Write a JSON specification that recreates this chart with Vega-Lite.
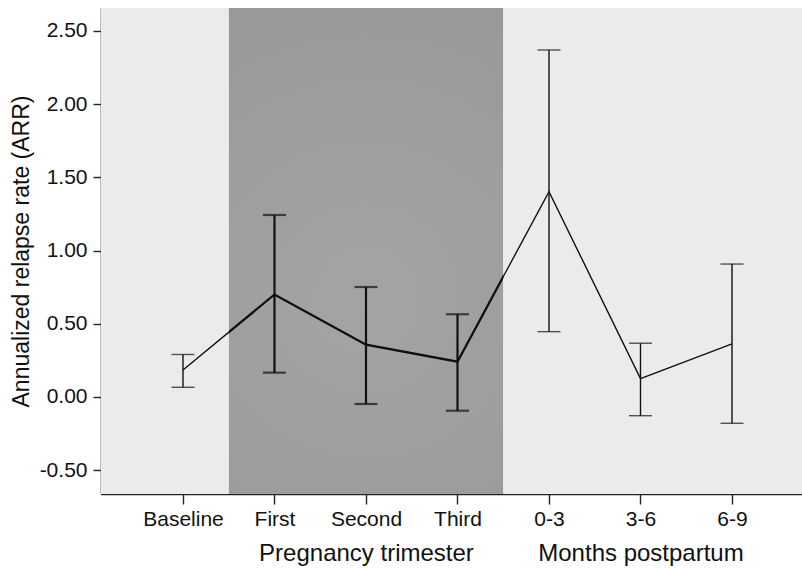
{
  "$schema": "https://vega.github.io/schema/vega-lite/v6.json",
  "width": 701,
  "height": 486,
  "autosize": {"type": "none"},
  "padding": {"left": 101, "top": 8, "right": 0, "bottom": 75},
  "background": "white",
  "config": {
    "view": {"stroke": "#d6d6d6", "strokeWidth": 1, "fill": "#ebebeb"},
    "font": "Liberation Sans",
    "axis": {
      "labelFont": "Liberation Sans",
      "titleFont": "Liberation Sans",
      "labelColor": "#111",
      "titleColor": "#111",
      "domainColor": "#222",
      "tickColor": "#222",
      "domainWidth": 1.6,
      "tickWidth": 1.4,
      "grid": false
    }
  },
  "datasets": {
    "points": [
      {"i": 1, "period": "Baseline", "mean": 0.184, "lower": 0.066, "upper": 0.29},
      {"i": 2, "period": "First", "mean": 0.70, "lower": 0.166, "upper": 1.243},
      {"i": 3, "period": "Second", "mean": 0.357, "lower": -0.048, "upper": 0.751},
      {"i": 4, "period": "Third", "mean": 0.241, "lower": -0.094, "upper": 0.565},
      {"i": 5, "period": "0-3", "mean": 1.402, "lower": 0.446, "upper": 2.37},
      {"i": 6, "period": "3-6", "mean": 0.125, "lower": -0.128, "upper": 0.367},
      {"i": 7, "period": "6-9", "mean": 0.362, "lower": -0.18, "upper": 0.908}
    ],
    "zones": [
      {"zone": "before", "start": 0, "end": 1.5},
      {"zone": "pregnancy", "start": 1.5, "end": 4.5},
      {"zone": "after", "start": 4.5, "end": 8}
    ]
  },
  "resolve": {"axis": {"x": "independent"}},
  "layer": [
    {
      "data": {"name": "zones"},
      "transform": [{"filter": "datum.zone == 'pregnancy'"}],
      "mark": {
        "type": "rect",
        "clip": true,
        "color": {
          "gradient": "radial",
          "x1": 0.5, "y1": 0.6, "r1": 0,
          "x2": 0.5, "y2": 0.6, "r2": 0.75,
          "stops": [
            {"offset": 0, "color": "#a4a4a4"},
            {"offset": 1, "color": "#979797"}
          ]
        }
      },
      "encoding": {
        "x": {"field": "start", "type": "quantitative", "scale": {"domain": [0.104, 7.765], "nice": false, "zero": false}, "axis": null},
        "x2": {"field": "end"}
      }
    },
    {
      "data": {"name": "points"},
      "mark": {"type": "line", "color": "#111", "strokeWidth": 2.2},
      "encoding": {
        "x": {"field": "i", "type": "quantitative", "axis": null},
        "y": {
          "field": "mean", "type": "quantitative",
          "scale": {"domain": [-0.663, 2.657], "nice": false, "zero": false},
          "axis": {
            "title": "Annualized relapse rate (ARR)",
            "titleFontSize": 23,
            "titleFontWeight": "normal",
            "titlePadding": 6,
            "values": [-0.5, 0, 0.5, 1, 1.5, 2, 2.5],
            "labelExpr": "(datum.value < 0 ? '-' : '') + format(abs(datum.value), '.2f')",
            "labelFontSize": 21,
            "labelPadding": 6,
            "tickSize": 8,
            "labelFlush": false
          }
        }
      }
    },
    {
      "data": {"name": "zones"},
      "transform": [{"filter": "datum.zone != 'pregnancy'"}],
      "mark": {"type": "rect", "clip": true, "color": "#ebebeb"},
      "encoding": {
        "x": {"field": "start", "type": "quantitative", "axis": null},
        "x2": {"field": "end"}
      }
    },
    {
      "data": {"name": "points"},
      "mark": {"type": "line", "color": "#111", "strokeWidth": 1.4},
      "encoding": {
        "x": {
          "field": "i", "type": "quantitative",
          "axis": {
            "title": null,
            "orient": "bottom",
            "values": [1, 2, 3, 4, 5, 6, 7],
            "labelExpr": "['','Baseline','First','Second','Third','0-3','3-6','6-9'][datum.value]",
            "labelFontSize": 21,
            "labelPadding": 4,
            "tickSize": 10,
            "labelFlush": false,
            "labelOverlap": false
          }
        },
        "y": {"field": "mean", "type": "quantitative"}
      }
    },
    {
      "data": {"name": "points"},
      "mark": {"type": "rule", "color": "#111"},
      "encoding": {
        "x": {
          "field": "i", "type": "quantitative",
          "axis": {
            "title": null,
            "orient": "bottom",
            "values": [3, 6],
            "labelExpr": "datum.value == 3 ? 'Pregnancy trimester' : 'Months postpartum'",
            "labelFontSize": 24,
            "labelPadding": 47,
            "labelLimit": 0,
            "ticks": false,
            "domain": false,
            "labelFlush": false,
            "labelOverlap": false
          }
        },
        "y": {"field": "lower", "type": "quantitative"},
        "y2": {"field": "upper"},
        "strokeWidth": {"condition": {"test": "datum.i >= 2 && datum.i <= 4", "value": 2.2}, "value": 1.4}
      }
    },
    {
      "data": {"name": "points"},
      "transform": [{"fold": ["lower", "upper"], "as": ["end", "value"]}, {"filter": "datum.i >= 2 && datum.i <= 4"}],
      "mark": {"type": "tick", "orient": "horizontal", "color": "#111", "size": 23, "thickness": 2.2},
      "encoding": {
        "x": {"field": "i", "type": "quantitative", "axis": null},
        "y": {"field": "value", "type": "quantitative"}
      }
    },
    {
      "data": {"name": "points"},
      "transform": [{"fold": ["lower", "upper"], "as": ["end", "value"]}, {"filter": "datum.i < 2 || datum.i > 4"}],
      "mark": {"type": "tick", "orient": "horizontal", "color": "#111", "size": 23, "thickness": 1.4},
      "encoding": {
        "x": {"field": "i", "type": "quantitative", "axis": null},
        "y": {"field": "value", "type": "quantitative"}
      }
    }
  ]
}
